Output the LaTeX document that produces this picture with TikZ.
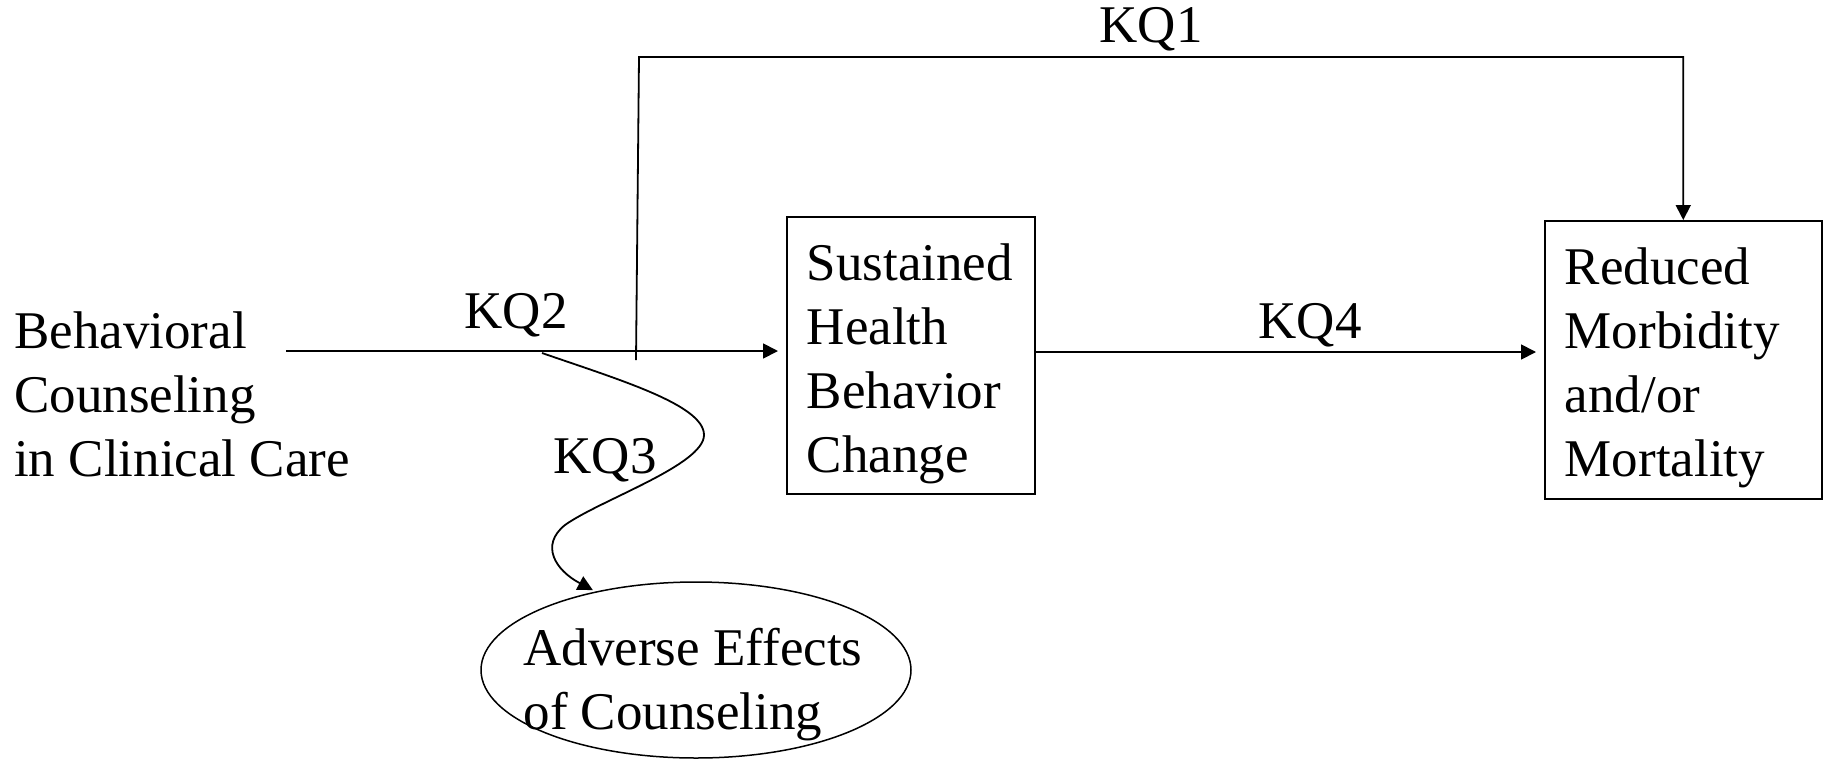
\documentclass[tikz,border=0pt]{standalone}
\usepackage{fontspec}
\setmainfont{Liberation Serif}
\usetikzlibrary{arrows.meta,shapes.geometric}
\begin{document}
\begin{tikzpicture}[x=1pt,y=-1pt,
  every node/.style={font=\fontsize{53}{64}\selectfont, inner sep=0pt},
  box/.style={draw, line width=1.5pt, rectangle, align=left, anchor=north west, inner xsep=20pt},
  arr/.style={line width=1.8pt, -{Triangle[length=15pt,width=15pt]}},
  lbl/.style={anchor=center}]
\useasboundingbox (0,0) rectangle (1823,761);
% nodes
\node[align=left, anchor=west] (bc) at (14,394) {Behavioral\\Counseling\\in Clinical Care};
\node[box, text width=208pt, minimum height=277pt] (shb) at (786,216) {\rule{0pt}{53pt}Sustained\\Health\\Behavior\\Change};
\node[box, text width=237pt, minimum height=278pt] (red) at (1544,220) {\rule{0pt}{53pt}Reduced\\Morbidity\\and/or\\Mortality};
\node[draw, ellipse, line width=1.5pt, minimum width=430pt, minimum height=176pt] (ae) at (696,670) {};
\node[align=left] (aet) at (693,685) {Adverse Effects\\of Counseling};
% labels
\node[lbl] (kq1) at (1151,29) {KQ1};
\node[lbl] (kq2) at (516,315) {KQ2};
\node[lbl] (kq3) at (605,460) {KQ3};
\node[lbl] (kq4) at (1310,325) {KQ4};
% connectors
\coordinate (s) at (286,351);
\coordinate (k4) at (0,352);
\coordinate (k1a) at (636,360);
\coordinate (k1b) at (639,57);
\coordinate (c0) at (542,353);
\draw[arr, shorten >=8pt] (s) -- (s -| shb.west);
\draw[arr, shorten >=8pt] (shb.east |- k4) -- (red.west |- k4);
\draw[arr] (k1a) -- (k1b) -| (red.north);
\draw[arr, shorten >=3pt] (c0) .. controls (620,380) and (704,405) .. (704,435)
  .. controls (704,465) and (600,500) .. (565,525)
  .. controls (540,545) and (555,570) .. (ae.142);
\end{tikzpicture}
\end{document}
